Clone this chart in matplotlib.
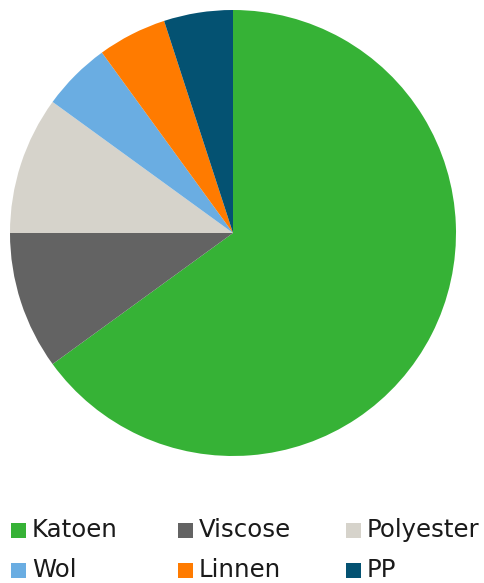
import matplotlib.pyplot as plt
from matplotlib.patches import Rectangle

labels = ["Katoen", "Viscose", "Polyester", "Wol", "Linnen", "PP"]
values = [65, 10, 10, 5, 5, 5]
colors = ["#36b236", "#636363", "#d6d3cb", "#6aade2", "#ff7b00", "#045272"]

W, H = 484, 583
fig = plt.figure(figsize=(W / 100, H / 100), dpi=100)
# pie area: centre ~ (233, 233) px, radius ~ 223 px
r = 223
ax = fig.add_axes([(233 - r) / W, 1 - (233 + r) / H, 2 * r / W, 2 * r / H])
ax.pie(values, colors=colors, startangle=90, counterclock=False,
       radius=1.0, wedgeprops=dict(linewidth=0))
ax.set_xlim(-1, 1)
ax.set_ylim(-1, 1)
ax.set_aspect("equal")
ax.axis("off")

# legend laid out by hand: 3 columns, 2 rows
col_x = [11, 178, 346]
row_y = [530, 570]
box = 15
for i, (lab, c) in enumerate(zip(labels, colors)):
    x = col_x[i % 3]
    y = row_y[i // 3]
    fig.patches.append(Rectangle((x / W, 1 - (y + box / 2) / H), box / W, box / H,
                                 transform=fig.transFigure, facecolor=c,
                                 edgecolor="none"))
    fig.text((x + box + 6) / W, 1 - y / H, lab, fontsize=17.6, va="center",
             ha="left", color="#1a1a1a")

fig.savefig("out.png", dpi=100)
